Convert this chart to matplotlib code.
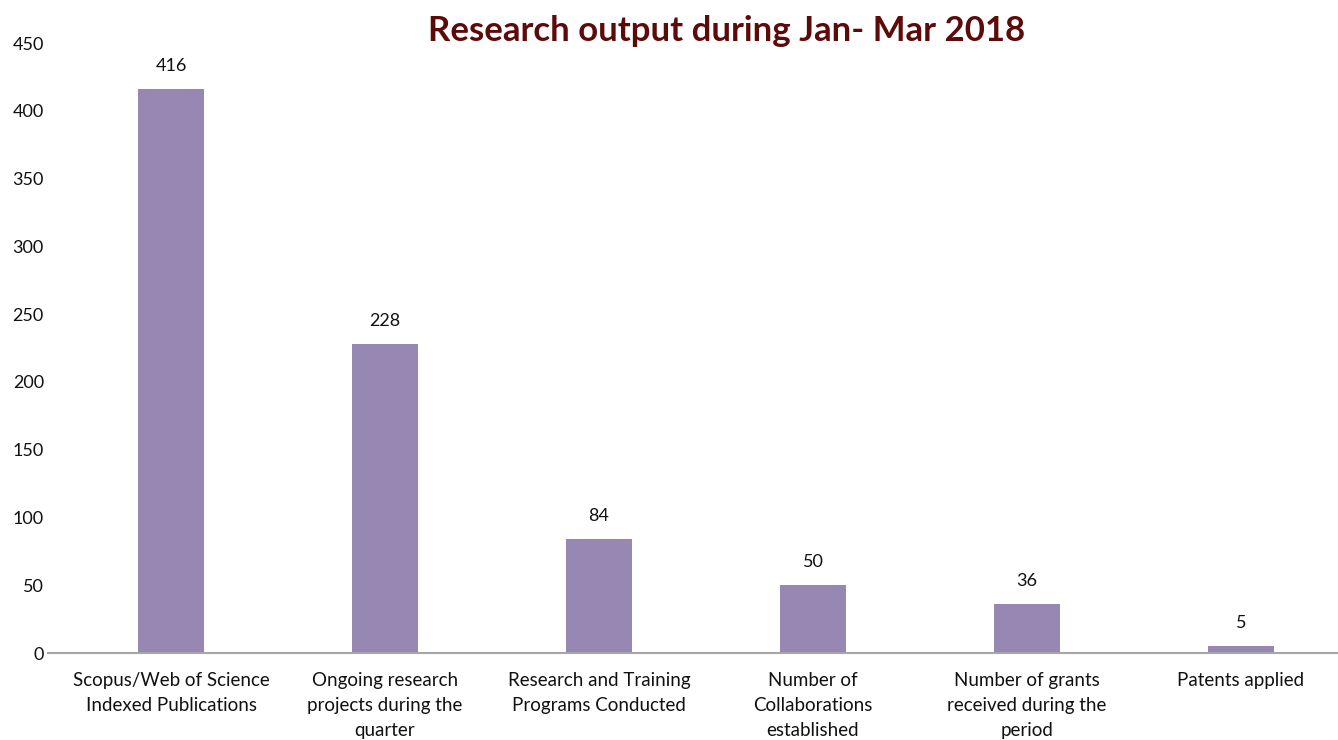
import matplotlib
matplotlib.use("Agg")
import matplotlib.pyplot as plt

categories = ["Scopus/Web of Science\nIndexed Publications",
              "Ongoing research\nprojects during the\nquarter",
              "Research and Training\nPrograms Conducted",
              "Number of\nCollaborations\nestablished",
              "Number of grants\nreceived during the\nperiod",
              "Patents applied"]
values = [416, 228, 84, 50, 36, 5]
yticks = [0, 50, 100, 150, 200, 250, 300, 350, 400, 450]
title = "Research output during Jan- Mar 2018"

plt.rcParams['font.family'] = ['Lato', 'DejaVu Sans']

fig = plt.figure(figsize=(13.38, 7.4), dpi=100)
ax = fig.add_axes([48/1338, 87/740, 1290/1338, 610/740])
x = list(range(len(values)))
ax.bar(x, values, width=0.31, color="#9787b3", zorder=2)
for xi, v in zip(x, values):
    ax.text(xi, v + 11, str(v), ha="center", va="bottom", fontsize=13, color="#111111")
ax.set_xlim(-0.575, 5.453)
ax.set_ylim(0, 450)
ax.set_yticks(yticks)
ax.set_yticklabels([str(t) for t in yticks], fontsize=13, color="#111111")
ax.set_xticks(x)
ax.set_xticklabels(categories, fontsize=13.5, color="#111111", linespacing=1.55)
ax.tick_params(axis="both", length=0)
ax.tick_params(axis="x", pad=14)
ax.tick_params(axis="y", pad=3)
for s in ["top", "right", "left"]:
    ax.spines[s].set_visible(False)
ax.spines["bottom"].set_color("#a6a6a6")
ax.spines["bottom"].set_linewidth(1.5)
fig.text(727/1338, 1 - 31/740, title, ha="center", va="center", fontsize=25,
         fontweight="bold", color="#5c0a0a")
fig.savefig("out.png", dpi=100)
